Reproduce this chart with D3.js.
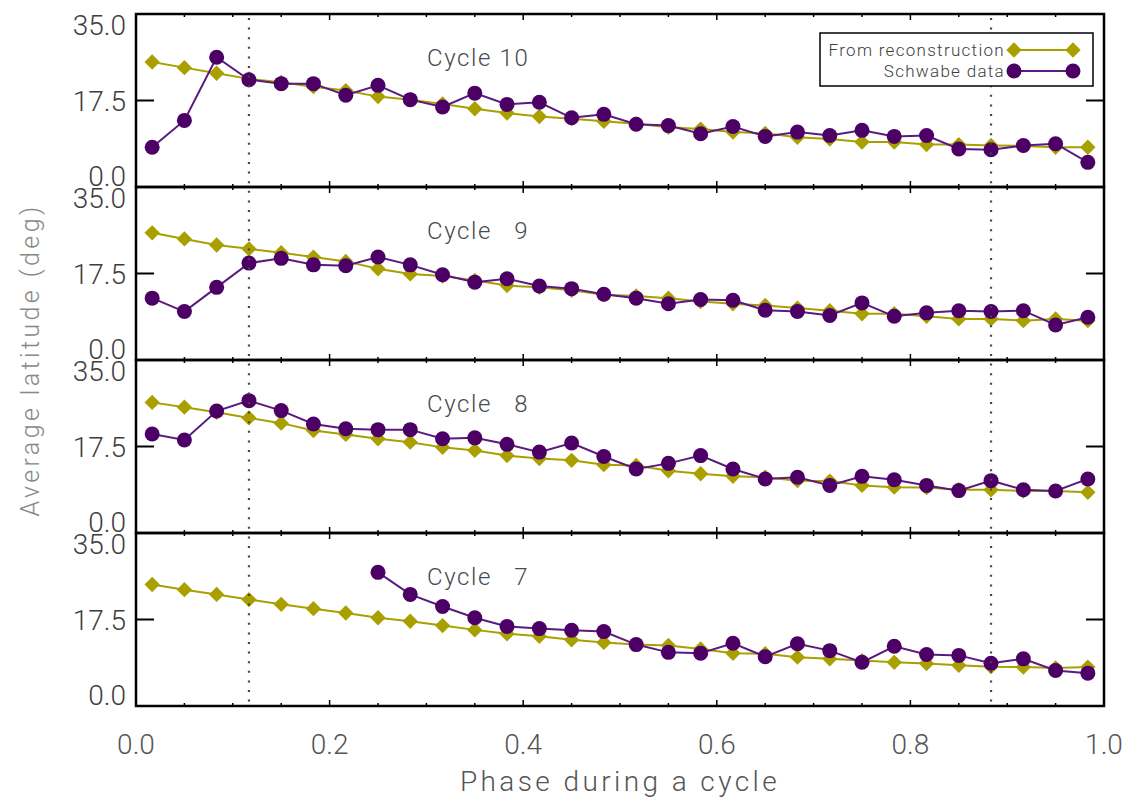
<!DOCTYPE html>
<html>
<head>
<meta charset="utf-8">
<script src="https://cdn.jsdelivr.net/npm/d3@7"></script>
<style>
  html, body { margin: 0; padding: 0; background: #fff; }
  svg { display: block; }
  text { font-family: Roboto, "DejaVu Sans", sans-serif; }
</style>
</head>
<body>
<svg id="chart" width="1132" height="801"></svg>
<script>
// ---------------- data ----------------
const phases = [0.0167, 0.0500, 0.0833, 0.1167, 0.1500, 0.1833, 0.2167, 0.2500, 0.2833, 0.3167,
                0.3500, 0.3833, 0.4167, 0.4500, 0.4833, 0.5167, 0.5500, 0.5833, 0.6167, 0.6500,
                0.6833, 0.7167, 0.7500, 0.7833, 0.8167, 0.8500, 0.8833, 0.9167, 0.9500, 0.9833];

const cycles = [10, 9, 8, 7];

const recon10 = [26.4, 25.1, 23.8, 22.5, 21.7, 20.7, 19.8, 18.4, 17.7, 16.7, 15.6, 14.6, 13.8, 13.3, 12.7,
                 12.1, 11.3, 10.9, 10.2, 9.9, 9.0, 8.6, 7.9, 7.9, 7.3, 7.3, 7.1, 7.0, 6.7, 6.7];
const schwabe10 = [6.7, 12.9, 27.5, 22.3, 21.4, 21.4, 18.7, 21.0, 17.7, 16.0, 19.2, 16.6, 17.1, 13.5, 14.3,
                   12.0, 11.7, 9.8, 11.5, 9.2, 10.2, 9.4, 10.6, 9.2, 9.4, 6.3, 6.1, 7.1, 7.5, 3.2];

const recon9 = [26.9, 25.5, 24.1, 23.2, 22.3, 21.3, 20.3, 18.6, 17.4, 16.9, 15.9, 14.7, 14.3, 13.6, 12.6,
                12.3, 11.8, 11.0, 10.5, 10.1, 9.5, 8.9, 8.2, 8.2, 7.6, 7.0, 7.0, 6.6, 7.0, 6.6];
const schwabe9 = [11.8, 8.7, 14.3, 19.9, 21.0, 19.5, 19.3, 21.3, 19.5, 17.2, 15.5, 16.3, 14.6, 14.0, 12.7,
                  11.8, 10.5, 11.5, 11.3, 9.0, 8.7, 7.8, 10.7, 7.6, 8.4, 8.9, 8.7, 8.9, 5.6, 7.4];

const recon8 = [27.7, 26.6, 25.4, 24.1, 22.9, 21.2, 20.3, 19.3, 18.5, 17.3, 16.6, 15.4, 14.7, 14.3, 13.3,
                13.1, 11.9, 11.2, 10.6, 10.4, 9.6, 9.5, 8.5, 8.1, 8.0, 7.5, 7.5, 7.2, 7.2, 6.9];
const schwabe8 = [20.4, 19.0, 25.7, 28.1, 25.8, 22.7, 21.6, 21.4, 21.4, 19.3, 19.5, 18.0, 16.2, 18.3, 15.2,
                  12.3, 13.6, 15.4, 12.3, 10.0, 10.4, 8.5, 10.6, 9.8, 8.5, 7.3, 9.6, 7.5, 7.2, 10.0];

const recon7 = [25.6, 24.4, 23.3, 22.1, 21.0, 20.0, 19.0, 17.9, 17.1, 16.1, 15.1, 14.2, 13.6, 12.8, 12.2,
                11.7, 11.5, 10.7, 9.7, 9.6, 8.8, 8.4, 8.0, 7.6, 7.3, 6.9, 6.6, 6.5, 6.3, 6.5];
const schwabe7 = [null, null, null, null, null, null, null, 28.4, 23.3, 20.5, 17.9, 15.9, 15.4, 15.0, 14.7,
                  11.7, 9.9, 9.7, 12.0, 8.9, 11.9, 10.3, 7.6, 11.3, 9.4, 9.2, 7.4, 8.4, 5.7, 5.1];

const reconByCycle = {10: recon10, 9: recon9, 8: recon8, 7: recon7};
const schwabeByCycle = {10: schwabe10, 9: schwabe9, 8: schwabe8, 7: schwabe7};

const yTickLabels = [0.0, 17.5, 35.0];
const yTickMarks = [17.5];
const xTickLabels = [0.0, 0.2, 0.4, 0.6, 0.8, 1.0];
const dottedPhases = [0.1167, 0.8833];
const seriesNames = ["From reconstruction", "Schwabe data"];

// ---------------- layout ----------------
const svg = d3.select("#chart");
const plotLeft = 136, plotRight = 1104, plotTop = 14, panelH = 173;
const nP = cycles.length;
const plotBottom = plotTop + panelH * nP;

const yellow = "#a9a000";
const purple = "#4c0066";
const purpleLine = "#5a1a80";
const labelColor = "#3e3e3e";

const x = d3.scaleLinear().domain([0, 1]).range([plotLeft, plotRight]);

cycles.forEach((cyc, i) => {
  const top = plotTop + i * panelH;
  const y = d3.scaleLinear().domain([-2.5, 37.5]).range([top + panelH, top]);
  const g = svg.append("g");

  // tick labels (left)
  g.selectAll("text.ylab").data(yTickLabels).enter().append("text")
    .attr("class", "ylab")
    .attr("x", plotLeft - 10)
    .attr("y", d => y(d))
    .attr("dy", "0.36em")
    .attr("text-anchor", "end")
    .attr("font-size", 28)
    .attr("font-weight", 300)
    .attr("fill", labelColor)
    .text(d => d.toFixed(1));

  // y tick marks inward, left and right
  yTickMarks.forEach(v => {
    g.append("line").attr("x1", plotLeft).attr("x2", plotLeft + 18)
      .attr("y1", y(v)).attr("y2", y(v)).attr("stroke", "#000").attr("stroke-width", 2);
    g.append("line").attr("x1", plotRight).attr("x2", plotRight - 18)
      .attr("y1", y(v)).attr("y2", y(v)).attr("stroke", "#000").attr("stroke-width", 2);
  });

  // x tick marks inward on top and bottom
  const majors = x.ticks(5);
  const minors = d3.range(0, 21).map(k => k / 20);
  minors.forEach(v => {
    const isMajor = majors.some(m => Math.abs(m - v) < 1e-6);
    const len = isMajor ? 6 : 3;
    g.append("line").attr("x1", x(v)).attr("x2", x(v))
      .attr("y1", top).attr("y2", top + len).attr("stroke", "#000").attr("stroke-width", 1.5);
    g.append("line").attr("x1", x(v)).attr("x2", x(v))
      .attr("y1", top + panelH).attr("y2", top + panelH - len).attr("stroke", "#000").attr("stroke-width", 1.5);
  });

  // reconstruction line + diamonds
  const rec = reconByCycle[cyc].map((v, k) => ({p: phases[k], v}));
  const line = d3.line().defined(d => d.v != null).x(d => x(d.p)).y(d => y(d.v));
  g.append("path").datum(rec).attr("d", line)
    .attr("fill", "none").attr("stroke", yellow).attr("stroke-width", 2);
  const diamond = d3.symbol().type(d3.symbolDiamond2).size(150);
  g.selectAll("path.dia").data(rec).enter().append("path")
    .attr("class", "dia")
    .attr("d", diamond)
    .attr("transform", d => `translate(${x(d.p)},${y(d.v)})`)
    .attr("fill", yellow);

  // schwabe line + circles
  const sch = schwabeByCycle[cyc].map((v, k) => ({p: phases[k], v})).filter(d => d.v != null);
  g.append("path").datum(sch).attr("d", line)
    .attr("fill", "none").attr("stroke", purpleLine).attr("stroke-width", 2);
  g.selectAll("circle.sch").data(sch).enter().append("circle")
    .attr("class", "sch")
    .attr("cx", d => x(d.p)).attr("cy", d => y(d.v)).attr("r", 7.5)
    .attr("fill", purple);

  // cycle label
  g.append("text")
    .attr("x", 427).attr("y", top + 43).attr("dy", "0.36em")
    .attr("font-size", 24).attr("font-weight", 300).attr("fill", "#4a4a4a")
    .attr("letter-spacing", 1.6)
    .attr("xml:space", "preserve").style("white-space", "pre")
    .text("Cycle " + d3.format("2d")(cyc).replace(/ /g, "  "));
});

// dotted verticals over everything
dottedPhases.forEach(p => {
  svg.append("line").attr("x1", x(p)).attr("x2", x(p))
    .attr("y1", plotTop + 4).attr("y2", plotBottom)
    .attr("stroke", "#444").attr("stroke-width", 2.2)
    .attr("stroke-dasharray", "2,7.6");
});

// panel frames
cycles.forEach((cyc, i) => {
  const top = plotTop + i * panelH;
  svg.append("rect").attr("x", plotLeft).attr("y", top)
    .attr("width", plotRight - plotLeft).attr("height", panelH)
    .attr("fill", "none").attr("stroke", "#000").attr("stroke-width", 2.5);
});

// x tick labels
svg.selectAll("text.xlab").data(xTickLabels).enter().append("text")
  .attr("x", d => x(d)).attr("y", plotBottom + 38).attr("dy", "0.36em")
  .attr("text-anchor", "middle").attr("font-size", 28).attr("font-weight", 300)
  .attr("fill", "#555")
  .text(d => d.toFixed(1));

// axis titles
svg.append("text")
  .attr("x", (plotLeft + plotRight) / 2).attr("y", plotBottom + 75).attr("dy", "0.36em")
  .attr("text-anchor", "middle").attr("font-size", 28).attr("font-weight", 300)
  .attr("letter-spacing", 3.4)
  .attr("fill", "#555").text("Phase during a cycle");

svg.append("text")
  .attr("transform", `translate(30,${(plotTop + plotBottom) / 2}) rotate(-90)`)
  .attr("dy", "0.36em")
  .attr("text-anchor", "middle").attr("font-size", 25).attr("font-weight", 300)
  .attr("letter-spacing", 3.4)
  .attr("fill", "#888").text("Average latitude (deg)");

// legend
const lg = svg.append("g");
lg.append("rect").attr("x", 820).attr("y", 33).attr("width", 273).attr("height", 53)
  .attr("fill", "#fff").attr("stroke", "#000").attr("stroke-width", 1.5);
const legRows = [
  {name: seriesNames[0], color: yellow, sym: "diamond", y: 50},
  {name: seriesNames[1], color: purple, sym: "circle", y: 71}
];
legRows.forEach(r => {
  lg.append("text").attr("x", 1005).attr("y", r.y).attr("dy", "0.36em")
    .attr("text-anchor", "end").attr("font-size", 17).attr("font-weight", 300)
    .attr("letter-spacing", 1.3)
    .attr("fill", labelColor).text(r.name);
  lg.append("line").attr("x1", 1014).attr("x2", 1073).attr("y1", r.y).attr("y2", r.y)
    .attr("stroke", r.sym === "circle" ? purpleLine : r.color).attr("stroke-width", 2);
  [1014, 1073].forEach(px => {
    if (r.sym === "circle") {
      lg.append("circle").attr("cx", px).attr("cy", r.y).attr("r", 7.5).attr("fill", r.color);
    } else {
      lg.append("path").attr("d", d3.symbol().type(d3.symbolDiamond2).size(150))
        .attr("transform", `translate(${px},${r.y})`).attr("fill", r.color);
    }
  });
});
</script>
</body>
</html>
